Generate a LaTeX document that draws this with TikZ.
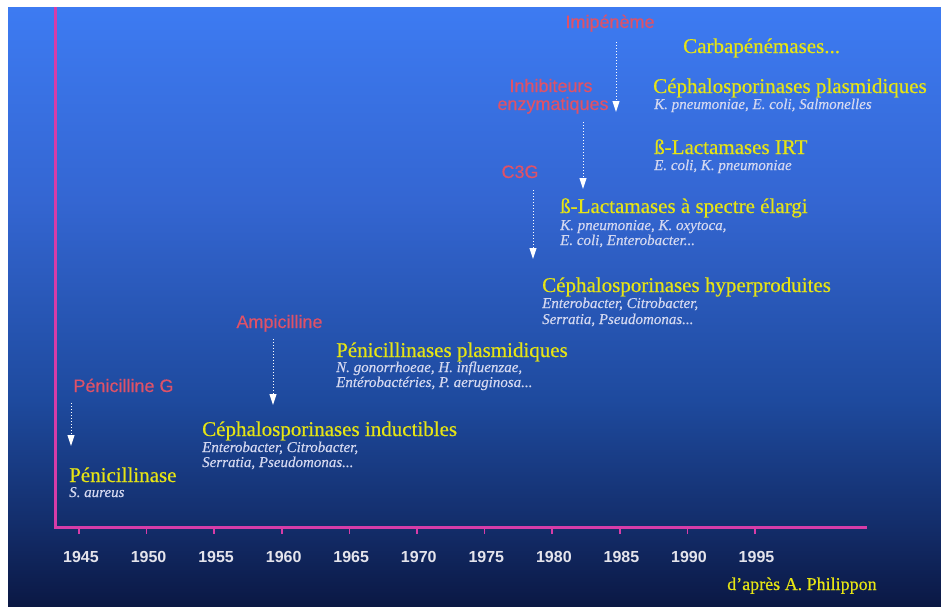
\documentclass[tikz,border=0pt]{standalone}
\usepackage{fontspec}
\setmainfont{Liberation Serif}
\newfontfamily\arialf{Liberation Sans}
\newfontfamily\arialfb{Liberation Sans}[FakeBold=0.3]
\newfontfamily\ttlf{Liberation Serif}[FakeBold=0.45]
\newfontfamily\spf{Liberation Serif}[FakeBold=0.3]
\usetikzlibrary{arrows.meta}
\definecolor{axiscol}{RGB}{214,60,168}
\definecolor{ytitle}{RGB}{230,228,20}
\definecolor{spcol}{RGB}{212,216,240}
\definecolor{redlab}{RGB}{222,82,104}
\definecolor{yearcol}{RGB}{228,228,236}
\definecolor{bgA}{RGB}{11,24,68}
\definecolor{bgB}{RGB}{19,45,106}
\definecolor{bgC}{RGB}{30,74,158}
\definecolor{bgD}{RGB}{52,102,210}
\definecolor{bgE}{RGB}{61,123,242}
\pgfdeclareverticalshading{bgshade}{100bp}{color(0bp)=(bgA); color(25bp)=(bgA); color(31.7bp)=(bgB); color(42.2bp)=(bgC); color(58.9bp)=(bgD); color(75bp)=(bgE); color(100bp)=(bgE)}
\begin{document}
\begin{tikzpicture}[x=1pt,y=-1pt,
  ttl/.style={anchor=base west,inner sep=0pt,text=ytitle,font=\ttlf\fontsize{21}{24}\selectfont},
  spc/.style={anchor=base west,inner sep=0pt,text=spcol,font=\spf\fontsize{15}{17}\selectfont\itshape},
  drug/.style={anchor=base,inner sep=0pt,text=redlab,font=\arialfb\fontsize{18}{20}\selectfont},
  year/.style={anchor=base,inner sep=0pt,text=yearcol,font=\arialf\bfseries\fontsize{16}{18}\selectfont},
  axisline/.style={draw=axiscol,line width=3pt},
  tick/.style={draw=axiscol,line width=1.6pt},
  arr/.style={draw=white,line width=1pt,dotted,-{Triangle[width=7pt,length=11pt]}}]
\useasboundingbox (0,0) rectangle (941,606);
\fill[white] (0,0) rectangle (941,606);
\shade[shading=bgshade] (8,7) rectangle (941,606);
% axes
\draw[axisline] (55,7) -- (55,527) -- (867,527);
\foreach \i in {0,...,10}{\draw[tick] ({79+67.6*\i},527) -- ({79+67.6*\i},534);}
\foreach \i/\yr in {0/1945,1/1950,2/1955,3/1960,4/1965,5/1970,6/1975,7/1980,8/1985,9/1990,10/1995}{
  \node[year] (y\yr) at ({81+67.55*\i},562) {\yr};}
% drugs
\node[drug] (penG) at (123.5,392) {Pénicilline G};
\node[drug] (ampi) at (279.5,328) {Ampicilline};
\node[drug] (c3g) at (520,178) {C3G};
\node[drug] (inh1) at (551,92) {Inhibiteurs};
\node[drug] (inh2) at (553,110) {enzymatiques};
\node[drug] (imip) at (610,28) {Imipénème};
% arrows
\coordinate (penGs) at (71,403); \coordinate (penGe) at (71,446);
\coordinate (ampis) at (273,339); \coordinate (ampie) at (273,405);
\coordinate (c3gs) at (533,190); \coordinate (c3ge) at (533,259);
\coordinate (inhs) at (583,122); \coordinate (inhe) at (583,189);
\coordinate (imips) at (616,42); \coordinate (imipe) at (616,112);
\draw[arr] (penGs) -- (penGe);
\draw[arr] (ampis) -- (ampie);
\draw[arr] (c3gs) -- (c3ge);
\draw[arr] (inhs) -- (inhe);
\draw[arr] (imips) -- (imipe);
% enzymes
\node[ttl] (t1) at (69,482) {Pénicillinase};
\node[spc] (s1a) at (69,497) {S. aureus};
\node[ttl] (t2) at (202,436) {Céphalosporinases inductibles};
\node[spc] (s2a) at (202,452) {Enterobacter, Citrobacter,};
\node[spc] (s2b) at (202,467) {Serratia, Pseudomonas...};
\node[ttl] (t3) at (336,357) {Pénicillinases plasmidiques};
\node[spc] (s3a) at (336,372) {N. gonorrhoeae, H. influenzae,};
\node[spc] (s3b) at (336,387) {Entérobactéries, P. aeruginosa...};
\node[ttl] (t4) at (542,292) {Céphalosporinases hyperproduites};
\node[spc] (s4a) at (542,308) {Enterobacter, Citrobacter,};
\node[spc] (s4b) at (542,324) {Serratia, Pseudomonas...};
\node[ttl] (t5) at (560,213) {ß-Lactamases à spectre élargi};
\node[spc] (s5a) at (560,230) {K. pneumoniae, K. oxytoca,};
\node[spc] (s5b) at (560,245) {E. coli, Enterobacter...};
\node[ttl] (t6) at (654,154) {ß-Lactamases IRT};
\node[spc] (s6a) at (654,170) {E. coli, K. pneumoniae};
\node[ttl] (t7) at (653,93) {Céphalosporinases plasmidiques};
\node[spc] (s7a) at (654,109) {K. pneumoniae, E. coli, Salmonelles};
\node[ttl] (t8) at (683,53) {Carbapénémases...};
\node[anchor=base west,inner sep=0pt,text=ytitle,font=\ttlf\fontsize{18}{20}\selectfont] (src) at (727,590) {d’après A. Philippon};
\end{tikzpicture}
\end{document}
